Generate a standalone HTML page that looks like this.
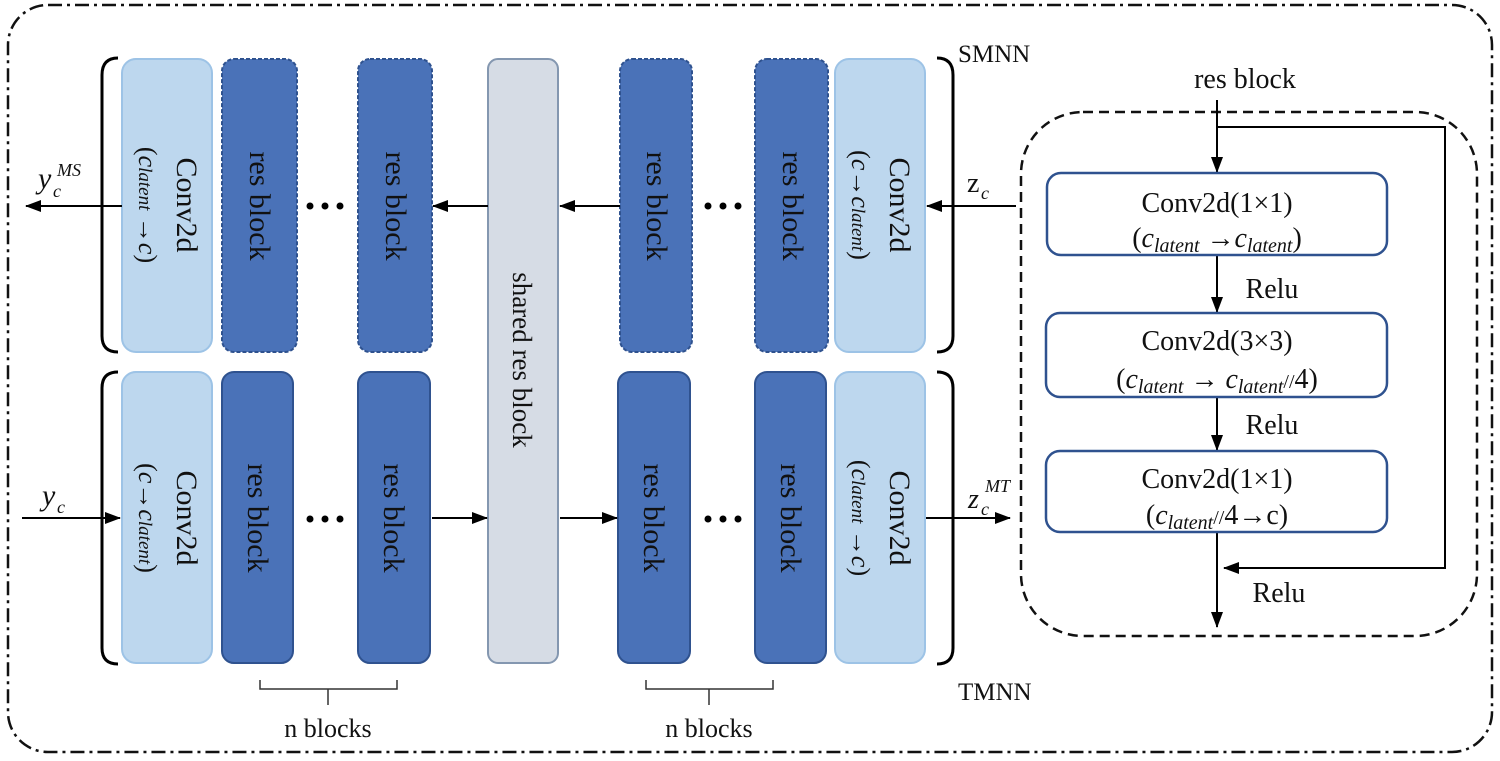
<!DOCTYPE html>
<html><head><meta charset="utf-8"><style>
html,body{margin:0;padding:0;background:#fff}
svg{display:block}
text{font-family:"Liberation Serif",serif;fill:#111}
.it{font-style:italic}
</style></head><body>
<svg width="1500" height="761" viewBox="0 0 1500 761" xmlns="http://www.w3.org/2000/svg">
<defs>
<marker id="b" markerWidth="16" markerHeight="12" refX="15" refY="6" orient="auto" markerUnits="userSpaceOnUse"><path d="M0,0 L16,6 L0,12 Z" fill="#000"/></marker>
</defs>
<rect x="8" y="5" width="1484" height="747" rx="40" fill="none" stroke="#111" stroke-width="2.5" stroke-dasharray="14,5,3,5"/>

<!-- top row -->
<rect x="122" y="59" width="90" height="293" rx="14" fill="#bdd7ee" stroke="#9dc3e6" stroke-width="2"/>
<rect x="222" y="59" width="75" height="293" rx="12" fill="#4a72b8" stroke="#2f528f" stroke-width="2" stroke-dasharray="4,2"/>
<rect x="358" y="59" width="74" height="293" rx="12" fill="#4a72b8" stroke="#2f528f" stroke-width="2" stroke-dasharray="4,2"/>
<rect x="488" y="59" width="70" height="604" rx="10" fill="#d6dce5" stroke="#8497b0" stroke-width="2"/>
<rect x="620" y="59" width="72" height="293" rx="12" fill="#4a72b8" stroke="#2f528f" stroke-width="2" stroke-dasharray="4,2"/>
<rect x="755" y="59" width="73" height="293" rx="12" fill="#4a72b8" stroke="#2f528f" stroke-width="2" stroke-dasharray="4,2"/>
<rect x="835" y="59" width="90" height="293" rx="14" fill="#bdd7ee" stroke="#9dc3e6" stroke-width="2"/>
<!-- bottom row -->
<rect x="122" y="372" width="90" height="291" rx="14" fill="#bdd7ee" stroke="#9dc3e6" stroke-width="2"/>
<rect x="222" y="372" width="71" height="291" rx="12" fill="#4a72b8" stroke="#2f528f" stroke-width="2"/>
<rect x="358" y="372" width="72" height="291" rx="12" fill="#4a72b8" stroke="#2f528f" stroke-width="2"/>
<rect x="618" y="372" width="72" height="291" rx="12" fill="#4a72b8" stroke="#2f528f" stroke-width="2"/>
<rect x="755" y="372" width="71" height="291" rx="12" fill="#4a72b8" stroke="#2f528f" stroke-width="2"/>
<rect x="835" y="372" width="90" height="291" rx="14" fill="#bdd7ee" stroke="#9dc3e6" stroke-width="2"/>

<!-- rotated labels -->
<g font-size="30">
<text transform="translate(177,205) rotate(90)" text-anchor="middle">Conv2d</text>
<text transform="translate(139,205) rotate(90)" text-anchor="middle" font-size="26">(<tspan class="it">c</tspan><tspan class="it" font-size="19">latent</tspan> →<tspan class="it">c</tspan>)</text>
<text transform="translate(250,206) rotate(90)" text-anchor="middle">res block</text>
<text transform="translate(386,206) rotate(90)" text-anchor="middle">res block</text>
<text transform="translate(513,360) rotate(90)" text-anchor="middle" font-size="27">shared res block</text>
<text transform="translate(647,206) rotate(90)" text-anchor="middle">res block</text>
<text transform="translate(783,206) rotate(90)" text-anchor="middle">res block</text>
<text transform="translate(890,205) rotate(90)" text-anchor="middle">Conv2d</text>
<text transform="translate(852,205) rotate(90)" text-anchor="middle" font-size="26">(<tspan class="it">c</tspan>→<tspan class="it">c</tspan><tspan class="it" font-size="19">latent</tspan>)</text>

<text transform="translate(177,518) rotate(90)" text-anchor="middle">Conv2d</text>
<text transform="translate(139,518) rotate(90)" text-anchor="middle" font-size="26">(<tspan class="it">c</tspan>→<tspan class="it">c</tspan><tspan class="it" font-size="19">latent</tspan>)</text>
<text transform="translate(248,518) rotate(90)" text-anchor="middle">res block</text>
<text transform="translate(384,518) rotate(90)" text-anchor="middle">res block</text>
<text transform="translate(644,518) rotate(90)" text-anchor="middle">res block</text>
<text transform="translate(781,518) rotate(90)" text-anchor="middle">res block</text>
<text transform="translate(890,518) rotate(90)" text-anchor="middle">Conv2d</text>
<text transform="translate(852,518) rotate(90)" text-anchor="middle" font-size="26">(<tspan class="it">c</tspan><tspan class="it" font-size="19">latent</tspan> →<tspan class="it">c</tspan>)</text>
</g>

<!-- dots -->
<g fill="#000">
<circle cx="310" cy="206" r="3.5"/><circle cx="325" cy="206" r="3.5"/><circle cx="340" cy="206" r="3.5"/>
<circle cx="310" cy="519" r="3.5"/><circle cx="325" cy="519" r="3.5"/><circle cx="340" cy="519" r="3.5"/>
<circle cx="708" cy="206" r="3.5"/><circle cx="723" cy="206" r="3.5"/><circle cx="738" cy="206" r="3.5"/>
<circle cx="708" cy="519" r="3.5"/><circle cx="723" cy="519" r="3.5"/><circle cx="738" cy="519" r="3.5"/>
</g>

<!-- brackets -->
<g fill="none" stroke="#000" stroke-width="3">
<path d="M118,58 Q102,58 102,75 L102,336 Q102,352 118,352"/>
<path d="M118,372 Q102,372 102,388 L102,648 Q102,664 118,664"/>
<path d="M937,58 Q953,58 953,75 L953,336 Q953,352 937,352"/>
<path d="M937,372 Q953,372 953,388 L953,648 Q953,664 937,664"/>
</g>
<g fill="none" stroke="#333" stroke-width="1.5">
<path d="M260,680 L260,689 L397,689 L397,680 M328,689 L328,705"/>
<path d="M646,680 L646,689 L773,689 L773,680 M709,689 L709,705"/>
</g>
<text x="328" y="737" font-size="26" text-anchor="middle">n blocks</text>
<text x="709" y="737" font-size="26" text-anchor="middle">n blocks</text>
<text x="958" y="62" font-size="25">SMNN</text>
<text x="958" y="700" font-size="25">TMNN</text>

<!-- arrows -->
<g stroke="#000" stroke-width="2" fill="none">
<line x1="122" y1="206" x2="26" y2="206" marker-end="url(#b)"/>
<line x1="488" y1="206" x2="433" y2="206" marker-end="url(#b)"/>
<line x1="620" y1="206" x2="560" y2="206" marker-end="url(#b)"/>
<line x1="1016" y1="206" x2="927" y2="206" marker-end="url(#b)"/>
<line x1="22" y1="518" x2="120" y2="518" marker-end="url(#b)"/>
<line x1="432" y1="518" x2="487" y2="518" marker-end="url(#b)"/>
<line x1="560" y1="518" x2="617" y2="518" marker-end="url(#b)"/>
<line x1="926" y1="518" x2="1010" y2="518" marker-end="url(#b)"/>
</g>
<text x="38" y="188" font-size="30" class="it">y</text><text x="53" y="197" font-size="18" class="it">c</text><text x="57" y="176" font-size="18" class="it">MS</text>
<text x="42" y="505" font-size="30" class="it">y</text><text x="57" y="513" font-size="18" class="it">c</text>
<text x="967" y="192" font-size="28">z</text><text x="981" y="199" font-size="18" class="it">c</text>
<text x="968" y="508" font-size="28" class="it">z</text><text x="981" y="515" font-size="18" class="it">c</text><text x="985" y="492" font-size="18" class="it">MT</text>

<!-- res block detail -->
<rect x="1021" y="112" width="456" height="524" rx="62" fill="none" stroke="#111" stroke-width="2.5" stroke-dasharray="10,6"/>
<text x="1245" y="88" font-size="28" text-anchor="middle">res block</text>
<g stroke="#000" stroke-width="2" fill="none">
<line x1="1217" y1="100" x2="1217" y2="172" marker-end="url(#b)"/>
<polyline points="1217,127 1445,127 1445,568 1224,568" marker-end="url(#b)"/>
<line x1="1217" y1="255" x2="1217" y2="312" marker-end="url(#b)"/>
<line x1="1217" y1="397" x2="1217" y2="450" marker-end="url(#b)"/>
<line x1="1217" y1="532" x2="1217" y2="627" marker-end="url(#b)"/>
</g>
<g fill="#fff" stroke="#2f528f" stroke-width="2.5">
<rect x="1047" y="173" width="340" height="82" rx="14"/>
<rect x="1046" y="313" width="341" height="84" rx="14"/>
<rect x="1046" y="451" width="341" height="81" rx="14"/>
</g>
<g font-size="28" text-anchor="middle">
<text x="1217" y="212">Conv2d(1×1)</text>
<text x="1217" y="247">(<tspan class="it">c</tspan><tspan class="it" font-size="20" dy="5">latent</tspan><tspan dy="-5"> →</tspan><tspan class="it">c</tspan><tspan class="it" font-size="20" dy="5">latent</tspan><tspan dy="-5">)</tspan></text>
<text x="1217" y="350">Conv2d(3×3)</text>
<text x="1217" y="388">(<tspan class="it">c</tspan><tspan class="it" font-size="20" dy="5">latent</tspan><tspan dy="-5"> → </tspan><tspan class="it">c</tspan><tspan class="it" font-size="20" dy="5">latent</tspan><tspan dy="-5" font-size="20">//</tspan>4)</text>
<text x="1217" y="488">Conv2d(1×1)</text>
<text x="1217" y="524">(<tspan class="it">c</tspan><tspan class="it" font-size="20" dy="5">latent</tspan><tspan dy="-5" font-size="20">//</tspan>4→c)</text>
<text x="1272" y="298">Relu</text>
<text x="1272" y="434">Relu</text>
<text x="1279" y="602">Relu</text>
</g>
</svg>
</body></html>
